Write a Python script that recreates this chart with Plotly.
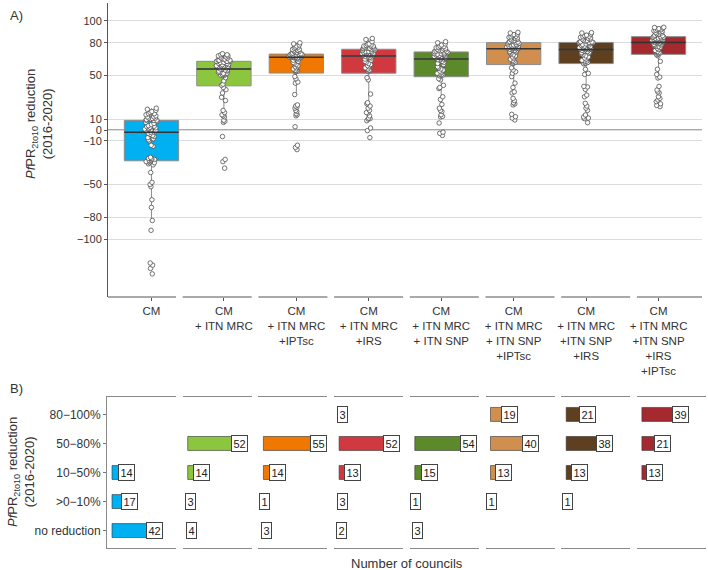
import numpy as np
import plotly.graph_objects as go

# ---------------- data ----------------
groups = ["CM", "CM<br>+ ITN MRC", "CM<br>+ ITN MRC<br>+IPTsc", "CM<br>+ ITN MRC<br>+IRS",
          "CM<br>+ ITN MRC<br>+ ITN SNP", "CM<br>+ ITN MRC<br>+ ITN SNP<br>+IPTsc",
          "CM<br>+ ITN MRC<br>+ITN SNP<br>+IRS", "CM<br>+ ITN MRC<br>+ITN SNP<br>+IRS<br>+IPTsc"]
colors = ["#00B0F0", "#8CC63F", "#F07800", "#D0393F", "#5C8A2B", "#D08F4F", "#5E3F1F", "#A52A30"]

red_cm = [20, 19, 18, 17, 16, 15, 15, 14, 13, 12, 12, 11, 11, 10.5,
          10, 9.5, 9, 9, 8.7, 8, 7, 6, 5, 4, 3.5, 3, 2.5, 2, 1.5, 1, 0.5,
          0, -0.5, -1, -1.5, -2, -2, -3, -4, -5, -6, -7, -8, -9, -10, -14, -15,
          -25, -26, -26, -26, -27, -27, -28, -28, -29, -29, -30, -30, -31, -32,
          -39, -48, -50, -52, -64, -71, -83, -92, -122, -124, -127, -132]
red_mrc = [70, 69, 69, 68, 68, 67, 67, 66, 66, 65, 65, 64, 64, 64, 63, 63, 63, 63,
           62, 62, 61, 61, 60, 60, 59, 59, 59, 58.5, 58.4, 58, 58, 57, 57, 56, 56, 55, 55,
           54, 54, 53, 53, 52, 52, 51, 51, 50.5, 50, 50,
           48, 45, 42, 41, 39, 37, 34, 30, 27, 18, 16, 14, 13, 12,
           9, 8, 7, -6, -27, -29, -35]
red_ipt = [80, 79, 78, 77, 76, 76, 75, 74, 74, 73, 73, 72, 72, 71, 71, 70.5, 70, 70,
           69.5, 69.3, 69, 69, 68.8, 68.5, 68.3, 68, 68, 67.8, 67.5, 67.3, 67, 67, 67, 66.9, 66.8, 66.7, 66.7,
           66.5, 66, 65.5, 65, 64, 63, 62, 61, 60, 59, 58, 57, 56, 55, 54.5, 54, 53.5, 53.3,
           49, 47, 44, 43, 32.5, 23, 22, 21, 20, 18, 17, 15, 14, 13,
           3, -14, -16, -18]
red_irs = [84, 83, 81,
           79, 78.5, 78, 77.5, 77, 77, 76.5, 76, 76, 75.5, 75, 75, 74.8, 74.6, 74.4,
           74, 73.5, 73, 72.5, 72, 72, 71.5, 71, 71, 70.5, 70, 70, 69.5, 69, 69, 68.5, 68.3, 68, 67.9,
           67.5, 67, 66.5, 66, 65, 64, 63, 62, 61, 60, 59, 58, 57, 56, 55, 54.5, 54, 53.5,
           48, 46, 33, 25, 24, 22, 20, 18, 16, 15.5, 13, 11, 10.5,
           10, 8.5, 1.8, -0.6, -7]
red_snp = [81, 80, 79, 78, 77, 76.5, 76, 75.5, 75, 74.5, 74, 73.5, 73, 73, 72.5, 72.3, 72, 71.9,
           71.5, 71, 70.5, 70, 70, 69.5, 69, 69, 68.5, 68, 68, 67.5, 67, 66.5, 66, 66, 65.5, 65.3, 65.1,
           64.5, 64, 63, 62, 61, 60, 58, 57, 56, 55, 54, 53, 52, 51.5, 51, 50.5, 50.2,
           49.5, 47, 46, 41, 39, 38, 30.5, 28, 23.5, 20, 18, 17, 14, 12.5, 12,
           6.4, -2, -3, -5]
red_snp_ipt = [89.6, 89, 88, 87.5, 87, 86, 85.5, 85, 84.5, 84, 83.5, 83, 82.5, 82, 81.5, 81, 80.7, 80.3, 80.1,
               79.5, 79, 78.5, 78, 78, 77.5, 77, 77, 76.5, 76, 76, 75.5, 75.5, 75, 75, 74.8, 74.7, 74.6,
               74, 73.5, 73, 72.5, 72, 71.5, 71, 70, 69, 68, 67, 66, 65, 64, 63, 62, 61.5, 61, 57, 55, 53.5, 52,
               49, 43, 39, 35, 34, 29, 27, 25, 24, 23, 14.4, 12.2, 11,
               9.2]
red_snp_irs = [89.3, 89, 88, 87, 86.5, 86, 85.5, 85, 84.5, 84, 83.5, 83, 82.5, 82, 81.5, 81, 80.8, 80.5, 80.3, 80.2, 80.1,
               79.5, 79, 78.5, 78, 77.5, 77, 76.5, 76, 75.5, 75, 75, 74.5, 74.2, 74, 73.8, 73.7,
               73, 72.5, 72, 71.5, 71, 70.5, 70, 69, 68, 67, 66, 65, 64, 63.5, 63, 62, 61.5, 61, 60.7, 55.7, 52, 51,
               40, 39.5, 37.3, 32, 30.5, 24.5, 22, 20, 18, 13.8, 12, 11, 10.5,
               6.7]
red_all = [94.2, 94, 93.5, 93, 92.5, 92, 91.5, 91, 90.5, 90, 89.5, 89, 88.5, 88, 87.5, 87, 86.5, 86,
           85.5, 85.2, 85, 84.5, 84.2, 84, 83.5, 83.2, 83, 82.5, 82.2, 82, 81.7, 81.5, 81.2, 81, 80.8, 80.6, 80.4,
           80.2, 80.1,
           79.5, 79, 78.5, 78, 77.5, 77, 76.5, 76, 75, 74, 73, 72, 71, 70.5, 70, 69.5, 69, 68, 63, 55.7, 51,
           48.5, 47.7, 40, 36.7, 35, 34, 30.5, 29, 27.5, 26, 24, 22.5, 21.4]
reductions = [red_cm, red_mrc, red_ipt, red_irs, red_snp, red_snp_ipt, red_snp_irs, red_all]

y_ticks = [100, 80, 50, 10, 0, -10, -50, -80, -100]

classes = ["80\u2212100%", "50\u221280%", "10\u221250%", ">0\u221210%", "no reduction"]
counts = [
    [0, 0, 14, 17, 42],
    [0, 52, 14, 3, 4],
    [0, 55, 14, 1, 3],
    [3, 52, 13, 3, 2],
    [0, 54, 15, 1, 3],
    [19, 40, 13, 1, 0],
    [21, 38, 13, 1, 0],
    [39, 21, 13, 0, 0],
]

# ---------------- figure ----------------
W, H = 708, 570
FONT = "Liberation Sans, Arial, sans-serif"
TXT = "#333333"

def px_x(p):
    return p / W

def px_y(p):
    return 1 - p / H

fig = go.Figure()

# Panel A: boxes with jittered points
for i, (vals, col) in enumerate(zip(reductions, colors)):
    pos = i + 1
    fig.add_trace(go.Box(
        x=[pos] * len(vals), y=vals, xaxis="x", yaxis="y",
        boxpoints="all", jitter=0.28, pointpos=0, width=0.75, whiskerwidth=0,
        fillcolor=col, line=dict(color="#8C8C8C", width=1),
        marker=dict(color="white", size=4.5, line=dict(color="#505050", width=0.8)),
        showlegend=False, hoverinfo="y",
    ))
for i, vals in enumerate(reductions):
    pos = i + 1
    med = float(np.median(vals))
    fig.add_trace(go.Scatter(
        x=[pos - 0.375, pos + 0.375], y=[med, med], mode="lines",
        line=dict(color="#333333", width=1.6), xaxis="x", yaxis="y",
        showlegend=False, hoverinfo="skip",
    ))

# Panel B: facet bars
fac_w = 69
fac_starts = [107 + 75.7 * k for k in range(8)]
for i, (cnt, col) in enumerate(zip(counts, colors)):
    xa = f"x{i + 2}"
    xs = [c for c in cnt if c > 0]
    ys = [cl for c, cl in zip(cnt, classes) if c > 0]
    fig.add_trace(go.Bar(
        x=xs, y=ys, orientation="h", xaxis=xa, yaxis="y2",
        marker=dict(color=col, line=dict(color="#333333", width=0.6)),
        width=0.48, showlegend=False, hoverinfo="x",
    ))
    for c, cl in zip(xs, ys):
        fig.add_annotation(
            x=c, y=cl, xref=xa, yref="y2", text=str(c), showarrow=False,
            xanchor="center", yanchor="middle",
            bgcolor="white", bordercolor="#444444", borderwidth=1, borderpad=1.5,
            font=dict(size=11, color="#222222", family=FONT),
        )

layout = dict(
    width=W, height=H, margin=dict(l=0, r=0, t=0, b=0),
    plot_bgcolor="white", paper_bgcolor="white",
    font=dict(family=FONT, size=12, color=TXT),
    xaxis=dict(domain=[px_x(108), px_x(702)], range=[0.4, 8.6], anchor="y",
               tickmode="array", tickvals=list(range(1, 9)), ticktext=groups,
               ticks="outside", ticklen=3, tickcolor="#555555",
               showline=False, showgrid=False, zeroline=False,
               tickfont=dict(size=11.5, color=TXT, family=FONT)),
    yaxis=dict(domain=[px_y(297), px_y(3)], range=[-153.2, 116.5], anchor="x",
               tickmode="array", tickvals=y_ticks, ticktext=[str(v).replace("-", "\u2212") for v in y_ticks],
               ticks="outside", ticklen=3, tickcolor="#555555",
               showline=True, linecolor="#555555", linewidth=1,
               showgrid=True, gridcolor="#DCDCDC", gridwidth=1.2, zeroline=False,
               tickfont=dict(size=11, color=TXT, family=FONT)),
    yaxis2=dict(domain=[px_y(548), px_y(397)], anchor="x2", type="category",
                categoryorder="array", categoryarray=classes[::-1], range=[-0.6, 4.6],
                ticks="outside", ticklen=3, tickcolor="#777777",
                showline=True, linecolor="#8A8A8A", linewidth=1,
                showgrid=False, zeroline=False,
                tickfont=dict(size=12, color=TXT, family=FONT)),
)
for i, s in enumerate(fac_starts):
    layout[f"xaxis{i + 2}"] = dict(
        domain=[px_x(s), px_x(s + fac_w)], range=[-5, 64], anchor="y2",
        showline=True, mirror=True, linecolor="#8A8A8A", linewidth=1,
        showticklabels=False, ticks="", showgrid=False, zeroline=False, fixedrange=True,
    )
fig.update_layout(**layout)

# zero line of panel A
fig.add_shape(type="line", xref="x", yref="y", x0=0.4, x1=8.6, y0=0, y1=0,
              line=dict(color="#555555", width=1), layer="below")
# segmented bottom axis line of panel A
for k, s in enumerate(fac_starts):
    x0 = max(s, 108)
    x1 = min(s + fac_w, 702)
    fig.add_shape(type="line", xref="paper", yref="paper",
                  x0=px_x(x0), x1=px_x(x1), y0=px_y(297), y1=px_y(297),
                  line=dict(color="#555555", width=1))

def note(x, y, text, size=13, angle=0):
    fig.add_annotation(x=px_x(x), y=px_y(y), xref="paper", yref="paper", text=text,
                       textangle=angle, showarrow=False, xanchor="center", yanchor="middle",
                       font=dict(size=size, color=TXT, family=FONT))

ytitle = "<i>Pf</i>PR<sub>2to10</sub> reduction<br>(2016-2020)"
note(39, 124, ytitle, angle=-90)
note(21, 472, ytitle, angle=-90)
note(16, 16, "A)")
note(16, 388, "B)")
note(407, 563, "Number of councils")

fig.write_html("out.html", config={"displayModeBar": False},
               post_script="document.body.style.margin='0px';document.body.style.overflow='hidden';")
